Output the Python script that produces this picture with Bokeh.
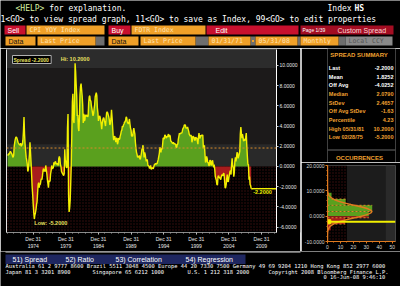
import math
import numpy as np
from bokeh.plotting import figure
from bokeh.layouts import column, row
from bokeh.models import (Range1d, LinearAxis, FixedTicker, NumeralTickFormatter,
                          BoxAnnotation, Span, Label)
from bokeh.core.properties import value
from bokeh.embed import file_html
from bokeh.resources import INLINE

# ---------------- data (monthly spread FDTR - CPI YoY) -------------
START_YEAR = 1971  # first observation 01/31/71, monthly

spread_1971_1979 = [
    1.2, 1.1, 1.3, 1.2, 1.4, 1.5, 1.4, 1.3, 1.2, 1.0, 0.9, 1.1,
    2.0, 2.4, 2.7, 2.9, 2.9, 2.8, 2.6, 2.4, 2.3, 2.2, 2.1, 2.2,
    2.3, 2.0, 2.1, 2.2, 2.6, 3.5, 4.9, 3.2, 2.2, 1.5, 0.9, 0.6,
    0.2, -0.5, -0.3, 0.5, 1.2, 2.4, 1.4, 0.4, -0.8, -2.0, -2.8, -3.8,
    -4.6, -5.2, -4.8, -4.6, -4.3, -3.8, -3.5, -2.6, -1.8, -1.6, -2.1, -1.7,
    -1.8, -1.4, -1.2, -1.3, -0.9, -0.4, -0.2, -0.5, -0.3, -0.5, 0.1, -0.3,
    -0.7, -1.3, -1.7, -2.1, -1.4, -1.5, -1.4, -0.7, -0.4, 0.1, -0.2, -0.2,
    -0.1, 0.4, 0.2, 0.4, 0.5, 0.3, 0.2, 0.3, 0.2, 0.1, 0.8, 1.0,
    0.8, 0.2, 0.0, -0.5, -0.6, -0.7, -0.8, -0.9, -0.7, 1.7, 0.6, 0.5,
]
spread_1980_1989 = [
    -0.1, -0.1, 3.8, 5.2, -2.8, -4.5, -4.1, -3.3, -1.6, 0.2, 3.3, 6.4,
    7.2, 4.6, 4.3, 5.9, 10.2, 9.4, 8.1, 7.0, 5.0, 5.1, 3.8, 3.5,
    4.8, 7.1, 7.9, 8.2, 7.6, 7.0, 6.1, 4.3, 5.2, 4.5, 4.6, 5.1,
    5.0, 5.0, 5.1, 4.9, 5.0, 6.3, 6.9, 7.0, 6.5, 6.5, 6.0, 5.7,
    5.3, 5.0, 5.2, 5.7, 6.1, 6.9, 7.1, 7.3, 7.0, 5.8, 5.3, 4.5,
    4.8, 5.0, 4.9, 4.6, 4.2, 3.7, 4.3, 4.6, 4.8, 4.8, 4.5, 4.3,
    4.0, 4.7, 5.3, 5.4, 5.3, 5.1, 4.9, 4.6, 4.1, 4.3, 4.7, 5.6,
    4.9, 4.0, 3.1, 2.6, 2.9, 3.0, 2.7, 2.4, 2.8, 2.8, 2.2, 2.4,
    2.8, 2.7, 2.7, 3.0, 3.2, 3.5, 3.6, 4.0, 3.9, 4.1, 4.2, 4.4,
    4.4, 4.6, 4.9, 4.8, 4.4, 4.3, 4.2, 4.4, 4.7, 4.2, 3.8, 3.6,
]
spread_1990_1999 = [
    3.0, 3.0, 3.0, 3.5, 3.8, 3.5, 3.2, 2.4, 1.8, 1.4, 1.2, 0.9,
    1.0, 0.9, 1.1, 0.8, 0.7, 1.0, 1.3, 1.7, 1.8, 2.1, 1.5, 0.9,
    1.4, 1.2, 0.8, 0.5, 0.7, 0.6, 0.1, 0.1, 0.0, -0.2, 0.0, 0.1,
    -0.3, -0.2, -0.1, -0.2, -0.2, 0.0, 0.2, 0.2, 0.3, 0.2, 0.3, 0.3,
    0.5, 0.7, 1.0, 1.3, 1.9, 1.7, 1.4, 1.8, 1.7, 2.1, 2.8, 2.8,
    2.7, 3.1, 3.1, 2.9, 2.8, 3.0, 2.9, 3.1, 3.2, 2.9, 3.1, 3.0,
    2.5, 2.5, 2.4, 2.3, 2.3, 2.4, 2.2, 2.3, 2.2, 2.2, 1.9, 1.9,
    2.2, 2.2, 2.7, 3.0, 3.3, 3.2, 3.3, 3.3, 3.3, 3.4, 3.7, 3.8,
    3.9, 4.1, 4.1, 4.1, 3.8, 3.8, 3.8, 3.9, 3.7, 3.5, 3.2, 3.1,
    3.0, 3.1, 3.0, 2.4, 2.6, 3.0, 2.9, 2.9, 2.6, 2.6, 2.9, 2.8,
]
spread_2000_2008 = [
    2.8, 2.5, 2.2, 2.9, 3.3, 2.8, 2.8, 3.1, 3.0, 3.1, 3.1, 3.1,
    1.8, 2.0, 2.1, 1.2, 0.4, 0.5, 1.0, 0.8, 0.4, 0.4, 0.1, 0.1,
    0.6, 0.6, 0.2, 0.1, 0.5, 0.6, 0.2, -0.1, 0.2, -0.3, -1.0, -1.2,
    -1.4, -1.8, -1.8, -1.0, -0.9, -1.1, -1.1, -1.2, -1.3, -1.0, -0.8, -0.9,
    -0.9, -0.7, -0.7, -1.3, -2.1, -2.1, -1.8, -1.2, -0.8, -1.5, -1.5, -1.1,
    -0.8, -0.5, -0.4, -0.8, 0.2, 0.8, 0.1, -0.1, -1.0, -0.6, 0.5, 0.9,
    0.5, 0.9, 1.4, 1.3, 0.8, 1.0, 1.2, 1.5, 3.2, 3.9, 3.3, 2.8,
    3.2, 2.9, 2.5, 2.7, 2.6, 2.6, 2.9, 3.3, 2.0, 1.0, 0.2, 0.2,
    -1.3, -1.0, -1.8, -1.9, -2.2,
]

x_tick_years = [1975, 1980, 1985, 1990, 1995, 2000, 2005, 2010]
x_tick_labels = ["Dec 31\n1974", "Dec 31\n1979", "Dec 31\n1984", "Dec 31\n1989",
                 "Dec 31\n1994", "Dec 31\n1999", "Dec 31\n2004", "Dec 31\n2009"]
x_minor_years = list(range(1971, 2013))
y_ticks = [-6, -4, -2, 0, 2, 4, 6, 8, 10]

summary_labels = ["Last", "Mean", "Off Avg", "Median", "StDev", "Off Avg StDev",
                  "Percentile", "High 05/31/81", "Low 02/28/75"]
summary_values = ["-2.2000", "1.8252", "-4.0252", "2.0790", "2.4657", "-1.63",
                  "4.23", "10.2000", "-5.2000"]
MEAN = 1.8252
STDEV = 2.4657

hist_y_ticks = [-10, 0, 10, 20]
hist_x_ticks = [0, 10, 20, 30, 40, 50]

# ---------------- styles ----------------
MONO = value("DejaVu Sans Mono")
SANS = value("Liberation Sans")
ORANGE = "#f0a028"
TXT_OR = "#f0a030"
BRED = "#c8102e"
GREEN = "#5aa01e"
FRED = "#a81c1c"
YELLOW = "#f2f000"
LABEL_Y = "#e8e060"
DOTS = "#3e0e0e"

spread = np.array(spread_1971_1979 + spread_1980_1989 + spread_1990_1999 + spread_2000_2008)
t = START_YEAR + (np.arange(len(spread)) + 1) / 12.0


def panel(w, h, x0, y0):
    f = figure(width=w, height=h, x_range=Range1d(x0, x0 + w), y_range=Range1d(y0 + h, y0),
               x_axis_type=None, y_axis_type=None, min_border=0,
               output_backend="svg", toolbar_location=None,
               background_fill_color="black", border_fill_color="black",
               outline_line_color=None)
    return f


def txt(f, x, y, s, color="white", font=MONO, size="8px", align="left", style="normal"):
    f.text(x=x, y=y, text=s, text_color=color, text_font=font, text_font_size=size,
           text_align=align, text_baseline="middle", text_font_style=style)


# ---------------- header ----------------
header = panel(400, 48, 0, 0)
txt(header, [15], [7.5], ["<HELP>"], color="#d8f0a0")
txt(header, [48.7], [7.5], ["for explanation."])
txt(header, [327], [7.5], ["Index"])
txt(header, [354], [7.5], ["HS"], style="bold")
txt(header, [0], [18.5], ["1<GO> to view spread graph, 11<GO> to save as Index, 99<GO> to edit properties"])

header.quad(left=[4, 108, 206], right=[25, 130, 298], top=[25, 25, 25], bottom=[34, 34, 34],
            fill_color=BRED, line_color=None)
header.quad(left=[26, 131], right=[104, 205], top=[25, 25], bottom=[34, 34],
            fill_color=ORANGE, line_color=None)
header.quad(left=[300], right=[393], top=[25], bottom=[34], fill_color="#a30d22", line_color=None)
txt(header, [7, 111, 215], [29.8] * 3, ["Sell", "Buy", "Edit"], font=SANS, size="7px")
txt(header, [29, 134], [29.8] * 2, ["CPI YOY Index", "FDTR Index"], color="#ffe2b0", size="6.5px")
txt(header, [302], [29.8], ["Page 1/39"], font=SANS, size="5px")
txt(header, [337], [29.8], ["Custom Spread"], color="#ffd8d8", font=SANS, size="7px")

header.quad(left=[95, 195, 250, 297, 338], right=[104, 208, 255, 300, 345],
            top=[36] * 5, bottom=[45] * 5, fill_color="#6e6e6e", line_color=None)
header.quad(left=[5, 37, 108, 140, 208, 255, 300], right=[35, 95, 138, 195, 250, 297, 338],
            top=[36] * 7, bottom=[45] * 7, fill_color=ORANGE, line_color=None)
header.quad(left=[251.5], right=[253.5], top=[39.5], bottom=[41.5], fill_color=ORANGE, line_color=None)
header.quad(left=[345], right=[392], top=[36], bottom=[45], fill_color="#8a8a8a", line_color=None)
txt(header, [8, 111], [40.8] * 2, ["Data", "Data"], color="#101010", font=SANS, size="7px")
txt(header, [40, 143, 211, 258, 303], [40.8] * 5,
    ["Last Price", "Last Price", "01/31/71", "05/31/08", "Monthly"], color="#ffe2b0", size="6.5px")
txt(header, [348], [40.8], ["Local CCY"], color="#555555", size="6.5px")

# ---------------- main spread chart ----------------
main = figure(width=300, height=203, x_range=Range1d(1970.9, 2012.3), y_range=Range1d(-6.53, 11.57),
              y_axis_location="right", output_backend="svg", toolbar_location=None,
              min_border_left=6, min_border_right=22, min_border_top=1, min_border_bottom=15,
              background_fill_color="#1c1a1a", border_fill_color="black", outline_line_color=None)
main.grid.visible = False

main.add_layout(BoxAnnotation(bottom=9.75, fill_color="#2c2c2c", fill_alpha=1, line_color=None, level="underlay"))
main.add_layout(BoxAnnotation(bottom=0, top=2.2, fill_color="#292929", fill_alpha=1, line_color=None, level="underlay"))
main.add_layout(BoxAnnotation(top=0, fill_color="black", fill_alpha=1, line_color=None, level="underlay",
                              hatch_pattern="dot", hatch_color=DOTS, hatch_scale=3, hatch_weight=1))

main.varea(x=t, y1=0, y2=np.maximum(spread, 0), fill_color=GREEN)
main.varea(x=t, y1=np.minimum(spread, 0), y2=0, fill_color=FRED)
main.add_layout(Span(location=MEAN, dimension="width", line_color="#d88a2a", line_dash="2 2", line_width=1))
main.line(t, spread, line_color=YELLOW, line_width=1.4)
main.ray(x=[t[-1]], y=[spread[-1]], length=0, angle=0, line_color=YELLOW, line_width=1.4)

i_hi = int(np.argmax(spread))
i_lo = int(np.argmin(spread))
main.text(x=[t[i_hi]], y=[spread[i_hi]], text=[f"Hi: {spread[i_hi]:.4f}"], text_align="center",
          text_baseline="bottom", y_offset=-1, text_color=LABEL_Y, text_font=SANS,
          text_font_size="5.5px", text_font_style="bold")
main.text(x=[t[i_lo]], y=[spread[i_lo]], text=[f"Low: {spread[i_lo]:.4f}"], text_align="left",
          text_baseline="top", y_offset=1, text_color=LABEL_Y, text_font=SANS,
          text_font_size="5.5px", text_font_style="bold")
main.text(x=[t[-1]], y=[spread[-1]], text=[f"{spread[-1]:.4f}"], text_align="left",
          text_baseline="top", x_offset=2, y_offset=1, text_color=YELLOW, text_font=SANS,
          text_font_size="5.5px", text_font_style="bold", background_fill_color="black")
main.add_layout(Label(x=6, y=177, x_units="screen", y_units="screen",
                      text=f"Spread  {spread[-1]:.4f}", text_baseline="top",
                      text_font="Liberation Sans", text_font_size="5px", text_font_style="bold",
                      text_color=LABEL_Y, background_fill_color="black",
                      border_line_color="#b0b0b0", padding=1))

xa = main.xaxis[0]
xa.ticker = FixedTicker(ticks=x_tick_years, minor_ticks=x_minor_years)
xa.major_label_overrides = dict(zip(x_tick_years, x_tick_labels))
xa.axis_line_color = "#8a8a8a"
xa.major_tick_line_color = "#d0d0d0"
xa.major_tick_in = 0
xa.major_tick_out = 2
xa.minor_tick_line_color = "#a0a0a0"
xa.minor_tick_in = 0
xa.minor_tick_out = 1
xa.major_label_standoff = 1
xa.major_label_text_font = "Liberation Sans"
xa.major_label_text_font_size = "5px"
xa.major_label_text_color = "#e8e8e8"

ya = main.yaxis[0]
ya.ticker = FixedTicker(ticks=y_ticks)
ya.formatter = NumeralTickFormatter(format="0.0000")
ya.axis_line_color = "white"
ya.major_tick_line_color = "#d0d0d0"
ya.major_tick_in = 0
ya.major_tick_out = 2
ya.minor_tick_line_color = None
ya.major_label_standoff = 1
ya.major_label_text_font = "Liberation Sans"
ya.major_label_text_font_size = "5px"
ya.major_label_text_color = "#e8e8e8"

left_line = LinearAxis(ticker=FixedTicker(ticks=[]), axis_line_color="#e0e0e0",
                       major_tick_line_color=None, minor_tick_line_color=None,
                       major_label_text_font_size="0px", major_label_standoff=0)
main.add_layout(left_line, "left")

# ---------------- separator ----------------
sep = figure(width=1, height=203, x_axis_type=None, y_axis_type=None, min_border=0,
             output_backend="svg", toolbar_location=None,
             background_fill_color="#7a7a7a", border_fill_color="#7a7a7a", outline_line_color=None)

# ---------------- spread summary ----------------
summ = panel(99, 114, 301, 48)
row_y = [67.3 + 8.7 * i for i in range(len(summary_labels))]
row_col = ["white"] * 3 + [TXT_OR] * (len(summary_labels) - 3)
txt(summ, [347], [54.5], ["SPREAD SUMMARY"], color=TXT_OR, font=SANS, size="6px", align="center", style="bold")
txt(summ, [303] * len(summary_labels), row_y, summary_labels, color=row_col, font=SANS, size="5.5px", style="bold")
txt(summ, [397] * len(summary_values), row_y, summary_values, color=row_col, font=SANS, size="5.5px",
    align="right", style="bold")
summ.segment(x0=[301], y0=[149.5], x1=[400], y1=[149.5], line_color="#6a6a6a")
txt(summ, [347.5], [157.5], ["OCCURRENCES"], color=TXT_OR, font=SANS, size="6px", align="center", style="bold")

# ---------------- occurrences histogram ----------------
hist = figure(width=99, height=89, x_range=Range1d(0, 52.5), y_range=Range1d(-10, 20),
              output_backend="svg", toolbar_location=None,
              min_border_left=24, min_border_right=5, min_border_top=3, min_border_bottom=10,
              background_fill_color="#1c1c1c", border_fill_color="black", outline_line_color=None)
hist.grid.visible = False
hist.add_layout(BoxAnnotation(right=15, fill_color="black", fill_alpha=1, line_color=None, level="underlay",
                              hatch_pattern="dot", hatch_color=DOTS, hatch_scale=3, hatch_weight=1))
hist.add_layout(BoxAnnotation(left=45, fill_color="#2a2a2a", fill_alpha=1, line_color=None, level="underlay"))

edges = MEAN + STDEV * np.arange(-3, 4)
counts, _ = np.histogram(spread, bins=edges)
pct = counts / len(spread) * 100.0
lo, hi = edges[:-1], edges[1:]
g = hi > 0
hist.quad(left=0, right=pct[g], bottom=np.maximum(lo[g], 0), top=hi[g], fill_color=GREEN, line_color=None)
r = lo < 0
hist.quad(left=0, right=pct[r], bottom=lo[r], top=np.minimum(hi[r], 0), fill_color=FRED, line_color=None)
inner = edges[1:-1]
seg_len = np.maximum(pct[:-1], pct[1:])
hist.segment(x0=0, y0=inner, x1=seg_len, y1=inner, line_color="#e08a2a", line_dash="2 2", line_width=1)

yy = np.linspace(-10, 20, 301)
peak = 50.0 * math.erf(1 / math.sqrt(2))
hist.line(peak * np.exp(-0.5 * ((yy - MEAN) / STDEV) ** 2), yy, line_color="#e07a20", line_width=1.5)
hist.add_layout(Span(location=spread[-1], dimension="width", line_color=YELLOW, line_width=2))
hist.scatter(x=[1], y=[spread[-1]], marker="square", size=4, fill_color=YELLOW, line_color=YELLOW)

hxa = hist.xaxis[0]
hxa.ticker = FixedTicker(ticks=hist_x_ticks, minor_ticks=list(range(0, 53, 5)))
hya = hist.yaxis[0]
hya.ticker = FixedTicker(ticks=hist_y_ticks, minor_ticks=list(range(-10, 21, 2)))
hya.formatter = NumeralTickFormatter(format="0.0000")
for ax in (hxa, hya):
    ax.axis_line_color = "#e07a20"
    ax.major_tick_line_color = "#e07a20"
    ax.minor_tick_line_color = "#e07a20"
    ax.major_tick_in = 0
    ax.major_tick_out = 2
    ax.minor_tick_in = 0
    ax.minor_tick_out = 1
    ax.major_label_standoff = 1
    ax.major_label_text_font = "Liberation Sans"
    ax.major_label_text_font_size = "5px"
    ax.major_label_text_color = "#d8d8d8"

# ---------------- footer ----------------
footer = panel(400, 35, 0, 251)
footer.segment(x0=[5], y0=[251.5], x1=[300], y1=[251.5], line_color="#d8d8d8")
footer.quad(left=[5], right=[245], top=[254], bottom=[263.5], fill_color="#1e2660", line_color=None)
txt(footer, [12, 65, 115, 185], [258.8] * 4, ["51) Spread", "52) Ratio", "53) Correlation", "54) Regression"],
    font=SANS, size="7px")
txt(footer, [5], [265.5],
    ["Australia 61 2 9777 8600 Brazil 5511 3048 4500 Europe 44 20 7330 7500 Germany 49 69 9204 1210 Hong Kong 852 2977 6000"],
    size="5.4px")
txt(footer, [5, 92, 187, 268], [271] * 4,
    ["Japan 81 3 3201 8900", "Singapore 65 6212 1000", "U.S. 1 212 318 2000",
     "Copyright 2008 Bloomberg Finance L.P."], size="5.4px")
txt(footer, [388], [276.5], ["0 16-Jun-08  9:46:10"], size="5.4px", align="right")

layout = column(header, row(main, sep, column(summ, hist)), footer)
open("out.html", "w").write(file_html(layout, INLINE))
